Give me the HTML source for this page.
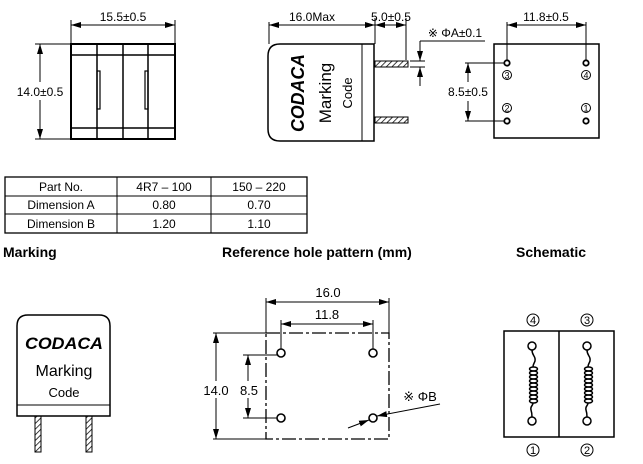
<!DOCTYPE html>
<html><head><meta charset="utf-8"><style>
html,body{margin:0;padding:0;background:#fff;}
svg{display:block;font-family:"Liberation Sans",sans-serif;}
</style></head><body>
<svg width="643" height="464" viewBox="0 0 643 464" xmlns="http://www.w3.org/2000/svg">
<defs>
<marker id="a" viewBox="0 0 10 6" refX="10" refY="3" markerWidth="10" markerHeight="6" orient="auto-start-reverse" markerUnits="userSpaceOnUse"><path d="M0,0 L10,3 L0,6 z" fill="#000"/></marker>
<pattern id="h" width="4" height="4" patternUnits="userSpaceOnUse" patternTransform="rotate(45)"><line x1="0" y1="0" x2="0" y2="4" stroke="#000" stroke-width="1.5"/></pattern>
</defs>
<g stroke="#000" fill="none" stroke-width="1">
<!-- View 1 -->
<rect x="71" y="44" width="104" height="95" stroke-width="2"/>
<line x1="71" y1="55" x2="175" y2="55" stroke-width="1.5"/>
<line x1="71" y1="128" x2="175" y2="128" stroke-width="1.5"/>
<line x1="97" y1="44" x2="97" y2="139" stroke-width="1.5"/>
<line x1="123" y1="44" x2="123" y2="139" stroke-width="1.5"/>
<line x1="148" y1="44" x2="148" y2="139" stroke-width="1.5"/>
<rect x="97" y="71" width="3" height="38" stroke-width="1.2"/>
<rect x="145" y="71" width="3" height="38" stroke-width="1.2"/>
<line x1="71" y1="20" x2="71" y2="44"/><line x1="175" y1="20" x2="175" y2="44"/>
<line x1="71" y1="25" x2="175" y2="25" marker-start="url(#a)" marker-end="url(#a)"/>
<line x1="35" y1="44" x2="71" y2="44"/><line x1="35" y1="139" x2="71" y2="139"/>
<line x1="40" y1="44" x2="40" y2="82" marker-start="url(#a)"/>
<line x1="40" y1="100" x2="40" y2="139" marker-end="url(#a)"/>
<!-- View 2 -->
<path d="M280,44 H374 V141 H280 Q268,141 268,129 V56 Q268,44 280,44 Z" stroke-width="1.5"/>
<line x1="362" y1="44" x2="362" y2="141"/>
<rect x="375" y="61" width="33" height="6" fill="url(#h)"/>
<rect x="375" y="117" width="33" height="6" fill="url(#h)"/>
<line x1="269" y1="22" x2="269" y2="44"/><line x1="375" y1="18" x2="375" y2="44"/><line x1="406" y1="18" x2="406" y2="60"/>
<line x1="269" y1="25" x2="375" y2="25" marker-start="url(#a)" marker-end="url(#a)"/>
<line x1="375" y1="25" x2="406" y2="25" marker-start="url(#a)" marker-end="url(#a)"/>
<line x1="420" y1="41" x2="485" y2="41"/>
<line x1="420" y1="41" x2="420" y2="61" marker-end="url(#a)"/>
<line x1="420" y1="86" x2="420" y2="67" marker-end="url(#a)"/>
<line x1="410" y1="61" x2="425" y2="61"/><line x1="410" y1="67" x2="425" y2="67"/>
<!-- View 3 -->
<rect x="494" y="44" width="105" height="94" stroke-width="1.5"/>
<circle cx="507" cy="63" r="2.7" stroke-width="1.8"/><circle cx="586" cy="63" r="2.7" stroke-width="1.8"/>
<circle cx="507" cy="121" r="2.7" stroke-width="1.8"/><circle cx="586" cy="121" r="2.7" stroke-width="1.8"/>
<line x1="507" y1="22" x2="507" y2="60"/><line x1="586" y1="22" x2="586" y2="60"/>
<line x1="507" y1="25" x2="586" y2="25" marker-start="url(#a)" marker-end="url(#a)"/>
<line x1="465" y1="63" x2="504" y2="63"/><line x1="465" y1="121" x2="504" y2="121"/>
<line x1="468" y1="63" x2="468" y2="82" marker-start="url(#a)"/>
<line x1="468" y1="101" x2="468" y2="121" marker-end="url(#a)"/>
<circle cx="507" cy="75" r="4.5"/><circle cx="586" cy="75" r="4.5"/>
<circle cx="507" cy="108" r="4.5"/><circle cx="586" cy="108" r="4.5"/>
<!-- Table -->
<rect x="5" y="177" width="302" height="56" stroke-width="1.3"/>
<line x1="5" y1="196" x2="307" y2="196"/><line x1="5" y1="214" x2="307" y2="214"/>
<line x1="117" y1="177" x2="117" y2="233"/><line x1="211" y1="177" x2="211" y2="233"/>
<!-- Marking -->
<path d="M17,416 V326 Q17,315 28,315 H99 Q110,315 110,326 V416 Z" stroke-width="1.5"/>
<line x1="17" y1="405" x2="110" y2="405"/>
<rect x="35" y="416" width="6" height="36" fill="url(#h)"/>
<rect x="86" y="416" width="6" height="36" fill="url(#h)"/>
<!-- Hole pattern -->
<rect x="266" y="333" width="123" height="106" stroke-width="1.3" stroke-dasharray="14,3,3,3"/>
<line x1="266" y1="298" x2="266" y2="333"/><line x1="389" y1="298" x2="389" y2="333"/>
<line x1="266" y1="302" x2="389" y2="302" marker-start="url(#a)" marker-end="url(#a)"/>
<line x1="281" y1="320" x2="281" y2="349"/><line x1="373" y1="320" x2="373" y2="349"/>
<line x1="281" y1="324" x2="373" y2="324" marker-start="url(#a)" marker-end="url(#a)"/>
<circle cx="281" cy="353" r="4" stroke-width="1.6"/><circle cx="373" cy="353" r="4" stroke-width="1.6"/>
<circle cx="281" cy="418" r="4" stroke-width="1.6"/><circle cx="373" cy="418" r="4" stroke-width="1.6"/>
<line x1="213" y1="333" x2="266" y2="333"/><line x1="213" y1="439" x2="266" y2="439"/>
<line x1="216" y1="333" x2="216" y2="381" marker-start="url(#a)"/>
<line x1="216" y1="398" x2="216" y2="439" marker-end="url(#a)"/>
<line x1="243" y1="355" x2="277" y2="355"/><line x1="243" y1="418" x2="277" y2="418"/>
<line x1="248" y1="355" x2="248" y2="381" marker-start="url(#a)"/>
<line x1="248" y1="398" x2="248" y2="418" marker-end="url(#a)"/>
<line x1="440" y1="404" x2="377" y2="416" marker-end="url(#a)"/>
<line x1="348" y1="428" x2="369" y2="420" marker-end="url(#a)"/>
<!-- Schematic -->
<rect x="504" y="331" width="110" height="106" stroke-width="1.5"/>
<line x1="559" y1="331" x2="559" y2="437" stroke-width="1.5"/>
<g id="coil" stroke-width="1.5">
<circle cx="532" cy="346" r="4"/>
<circle cx="532" cy="421" r="4"/>
<path d="M532,350 C532,356 536,356 535,361 C534,364 533,364 533,367"/>
<ellipse cx="533.5" cy="369" rx="4" ry="2"/>
<ellipse cx="533.5" cy="373" rx="4" ry="2"/>
<ellipse cx="533.5" cy="377" rx="4" ry="2"/>
<ellipse cx="533.5" cy="381" rx="4" ry="2"/>
<ellipse cx="533.5" cy="385" rx="4" ry="2"/>
<ellipse cx="533.5" cy="389" rx="4" ry="2"/>
<ellipse cx="533.5" cy="393" rx="4" ry="2"/>
<ellipse cx="533.5" cy="397" rx="4" ry="2"/>
<ellipse cx="533.5" cy="401" rx="4" ry="2"/>
<path d="M533,403 C533,406 530,406 531,410 C532,413 532,414 532,417"/>
</g>
<use href="#coil" x="55"/>
<circle cx="533" cy="320" r="6"/><circle cx="587" cy="320" r="6"/>
<circle cx="533" cy="450" r="6"/><circle cx="587" cy="450" r="6"/>
</g>
<g font-size="12" fill="#000" text-anchor="middle">
<text x="123" y="21">15.5±0.5</text>
<text x="40" y="96">14.0±0.5</text>
<text x="312" y="21">16.0Max</text>
<text x="391" y="21">5.0±0.5</text>
<text x="455" y="37">※ ΦA±0.1</text>
<text x="546" y="21">11.8±0.5</text>
<text x="468" y="96">8.5±0.5</text>
<text x="507" y="78.5" font-size="9">3</text><text x="586" y="78.5" font-size="9">4</text>
<text x="507" y="111.5" font-size="9">2</text><text x="586" y="111.5" font-size="9">1</text>
<text x="533" y="324" font-size="11">4</text><text x="587" y="324" font-size="11">3</text>
<text x="533" y="454" font-size="11">1</text><text x="587" y="454" font-size="11">2</text>
<text x="61" y="191">Part No.</text><text x="164" y="191">4R7 – 100</text><text x="259" y="191">150 – 220</text>
<text x="61" y="209">Dimension A</text><text x="164" y="209">0.80</text><text x="259" y="209">0.70</text>
<text x="61" y="228">Dimension B</text><text x="164" y="228">1.20</text><text x="259" y="228">1.10</text>
<text x="328" y="297" font-size="13">16.0</text>
<text x="327" y="319" font-size="13">11.8</text>
<text x="216" y="395" font-size="13">14.0</text>
<text x="249" y="395" font-size="13">8.5</text>
<text x="420" y="401" font-size="13">※ ΦB</text>
<text x="64" y="349" font-size="17" font-weight="bold" font-style="italic" textLength="78" lengthAdjust="spacingAndGlyphs">CODACA</text>
<text x="64" y="376" font-size="16">Marking</text>
<text x="64" y="397" font-size="13">Code</text>
<g transform="translate(304,93) rotate(-90)"><text x="0" y="0" font-size="18" font-weight="bold" font-style="italic" textLength="78" lengthAdjust="spacingAndGlyphs">CODACA</text></g>
<g transform="translate(331,93) rotate(-90)"><text x="0" y="0" font-size="17">Marking</text></g>
<g transform="translate(352,93) rotate(-90)"><text x="0" y="0" font-size="13">Code</text></g>
</g>
<g font-size="14" font-weight="bold" fill="#000">
<text x="3" y="257">Marking</text>
<text x="222" y="257">Reference hole pattern (mm)</text>
<text x="516" y="257">Schematic</text>
</g>
</svg>
</body></html>
